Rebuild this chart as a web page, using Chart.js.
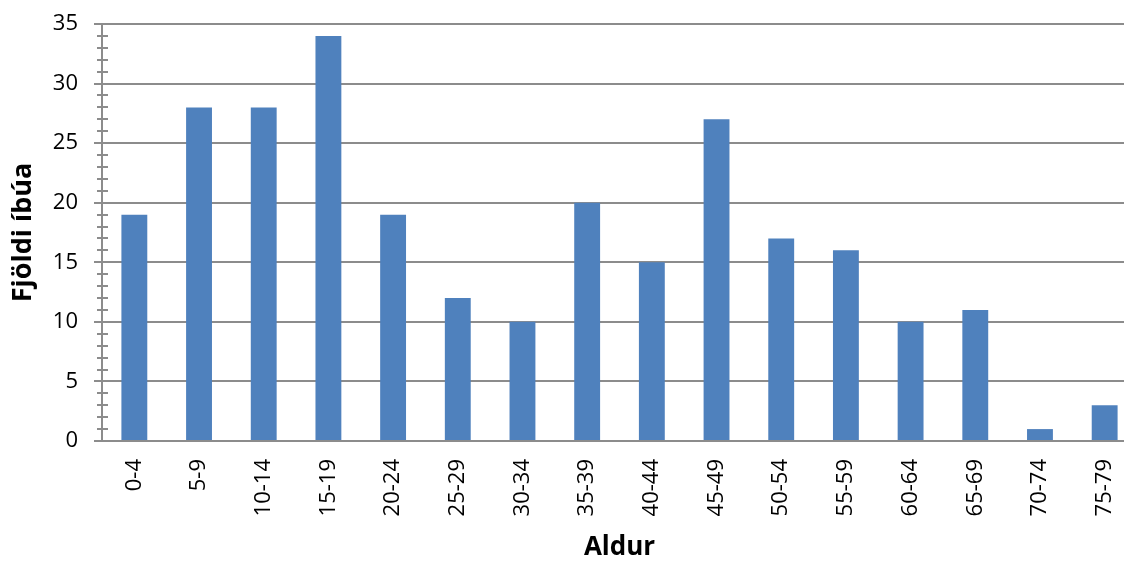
<!DOCTYPE html>
<html>
<head>
<meta charset="utf-8">
<script src="https://cdn.jsdelivr.net/npm/chart.js@4"></script>
<style>
html,body{margin:0;padding:0;background:#fff;overflow:hidden;}
#wrap{width:1124px;height:563px;position:relative;overflow:hidden;}
</style>
</head>
<body>
<div id="wrap"><canvas id="c" width="1140" height="563"></canvas></div>
<script>
const categories = ["0-4","5-9","10-14","15-19","20-24","25-29","30-34","35-39","40-44","45-49","50-54","55-59","60-64","65-69","70-74","75-79"];
const residents = [19,28,28,34,19,12,10,20,15,27,17,16,10,11,1,3];
const yTitle = "Fjöldi íbúa";
const xTitle = "Aldur";

const gridGray = "#8c8c8c";
const fontFam = "'Open Sans', 'Liberation Sans', sans-serif";

const minorTicks = {
  id: 'minorTicks',
  afterDraw(chart) {
    const y = chart.scales.y, ctx = chart.ctx;
    const x0 = chart.chartArea.left;
    ctx.save();
    ctx.strokeStyle = gridGray;
    ctx.lineWidth = 2;
    for (let v = y.min; v <= y.max; v += 1) {
      if (v % 5 === 0) continue;
      const py = Math.round(y.getPixelForValue(v));
      ctx.beginPath();
      ctx.moveTo(x0 - 5, py);
      ctx.lineTo(x0 + 6, py);
      ctx.stroke();
    }
    ctx.restore();
  }
};

new Chart(document.getElementById('c'), {
  type: 'bar',
  data: {
    labels: categories,
    datasets: [{
      data: residents,
      backgroundColor: '#4f81bd',
      borderWidth: 0,
      barPercentage: 0.40,
      categoryPercentage: 1.0
    }]
  },
  options: {
    responsive: false,
    animation: false,
    layout: { padding: { left: 6, right: 3, top: 24, bottom: 0 } },
    plugins: { legend: { display: false }, tooltip: { enabled: false } },
    scales: {
      x: {
        grid: { display: false, drawTicks: false },
        border: { display: true, color: gridGray, width: 2 },
        afterFit(s) { s.height = 122; s.paddingLeft = 0; s.paddingRight = 0; },
        ticks: {
          minRotation: 90, maxRotation: 90, autoSkip: false,
          color: '#000', padding: 18,
          font: { family: fontFam, size: 22 }
        },
        title: {
          display: true, text: xTitle, color: '#000',
          font: { family: fontFam, size: 26, weight: 'bold' },
          padding: { top: 0, bottom: 0 }
        }
      },
      y: {
        min: 0, max: 35,
        afterFit(s) { s.width = 96; s.paddingTop = 0; s.paddingBottom = 0; },
        grid: { color: gridGray, lineWidth: 2, tickLength: 8, drawTicks: true, tickColor: gridGray },
        border: { display: true, color: gridGray, width: 2 },
        ticks: {
          stepSize: 5, color: '#000', padding: 16,
          font: { family: fontFam, size: 22 }
        },
        title: {
          display: true, text: yTitle, color: '#000',
          font: { family: fontFam, size: 27, weight: 'bold' },
          padding: { top: 1, bottom: 8 }
        }
      }
    }
  },
  plugins: [minorTicks]
});
</script>
</body>
</html>
